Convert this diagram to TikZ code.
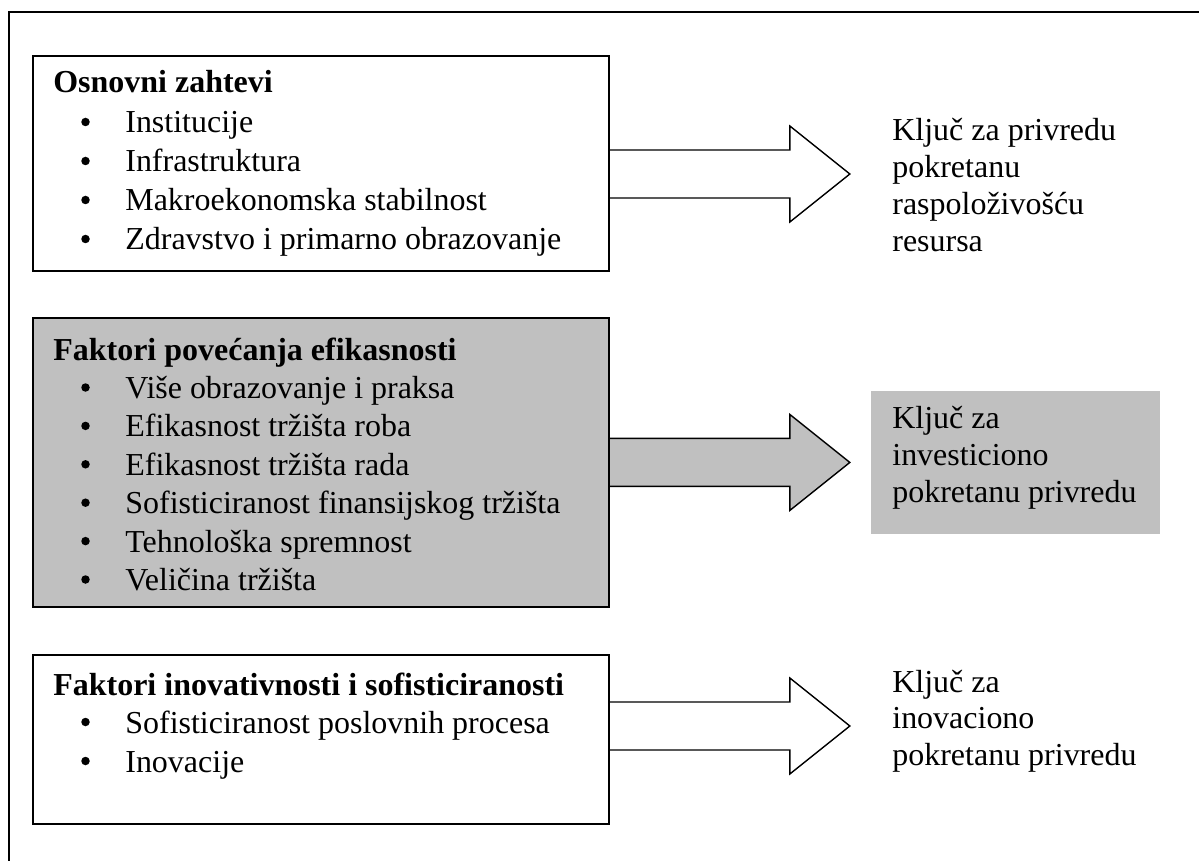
\documentclass[tikz,border=0pt]{standalone}
\usepackage{fontspec}
\setmainfont{Liberation Serif}
\usetikzlibrary{calc,backgrounds}
\definecolor{panelgray}{RGB}{192,192,192}

\begin{document}
\begin{tikzpicture}[
  x=0.02cm, y=-0.02cm,
  every node/.style={font=\fontsize{18.2pt}{21pt}\selectfont},
  frameline/.style={line width=1.1pt},
  box/.style={draw, line width=1.1pt, anchor=north west, inner sep=0pt,
    minimum width=11.52cm},
  graybox/.style={box, fill=panelgray},
  title/.style={anchor=base west, inner sep=0pt, font=\fontsize{18.2pt}{21pt}\selectfont\bfseries},
  line/.style={anchor=base west, inner sep=0pt},
  bulletmark/.style={circle, fill=black, inner sep=0pt, minimum size=0.17cm},
  blockarrow/.pic={
    \path[pic actions] (0,-24) -- (180,-24) -- (180,-48) -- (240,0)
      -- (180,48) -- (180,24) -- (0,24);
  },
  arrowstyle/.style={draw, line width=0.8pt, line join=miter},
]
\useasboundingbox (0,0) rectangle (1199,861);

% outer frame (open to the right and bottom)
\draw[frameline] (9,861) -- (9,12) -- (1199,12);

% three factor groups
\node[box, minimum height=4.30cm] (b1) at (32,55) {};
\node[graybox, minimum height=5.78cm] (b2) at (32,317) {};
\node[box, minimum height=3.38cm] (b3) at (32,654) {};

% result panel for the middle group
\node[draw=none, fill=panelgray, anchor=north west, inner sep=0pt,
      minimum width=5.78cm, minimum height=2.86cm] (g) at (871,391) {};

% block arrows from each group to its result
\begin{scope}[on background layer]
  \pic[arrowstyle, fill=white] at ($(b1.north east)+(0,119)$) {blockarrow};
  \pic[arrowstyle, fill=panelgray] at (b2.east) {blockarrow};
  \pic[arrowstyle, fill=white] at ($(b3.north east)+(0,72)$) {blockarrow};
\end{scope}

% group 1
\node[title] (h1) at (53,93) {Osnovni zahtevi};
\foreach \txt [count=\i] in {Institucije, Infrastruktura,
    Makroekonomska stabilnost, Zdravstvo i primarno obrazovanje} {
  \node[bulletmark] (p1\i) at (85.5,{133+39*(\i-1)-11}) {};
  \node[line] (l1\i) at (125,{133+39*(\i-1)}) {\txt};
}

% group 2
\node[title] (h2) at (53,360) {Faktori povećanja efikasnosti};
\foreach \txt [count=\i] in {Više obrazovanje i praksa, Efikasnost tržišta roba,
    Efikasnost tržišta rada, Sofisticiranost finansijskog tržišta,
    Tehnološka spremnost, Veličina tržišta} {
  \node[bulletmark] (p2\i) at (85.5,{398.5+38.4*(\i-1)-11}) {};
  \node[line] (l2\i) at (125,{398.5+38.4*(\i-1)}) {\txt};
}

% group 3
\node[title] (h3) at (53,695) {Faktori inovativnosti i sofisticiranosti};
\foreach \txt [count=\i] in {Sofisticiranost poslovnih procesa, Inovacije} {
  \node[bulletmark] (p3\i) at (85.5,{733+39*(\i-1)-11}) {};
  \node[line] (l3\i) at (125,{733+39*(\i-1)}) {\txt};
}

% results
\foreach \txt [count=\i] in {Ključ za privredu, pokretanu, raspoloživošću, resursa} {
  \node[line] (r1\i) at (892,{141+37*(\i-1)}) {\txt};
}
\foreach \txt [count=\i] in {Ključ za, investiciono, pokretanu privredu} {
  \node[line] (r2\i) at (892,{428+37*(\i-1)}) {\txt};
}
\foreach \txt [count=\i] in {Ključ za, inovaciono, pokretanu privredu} {
  \node[line] (r3\i) at (892,{692+36.5*(\i-1)}) {\txt};
}
\end{tikzpicture}
\end{document}
